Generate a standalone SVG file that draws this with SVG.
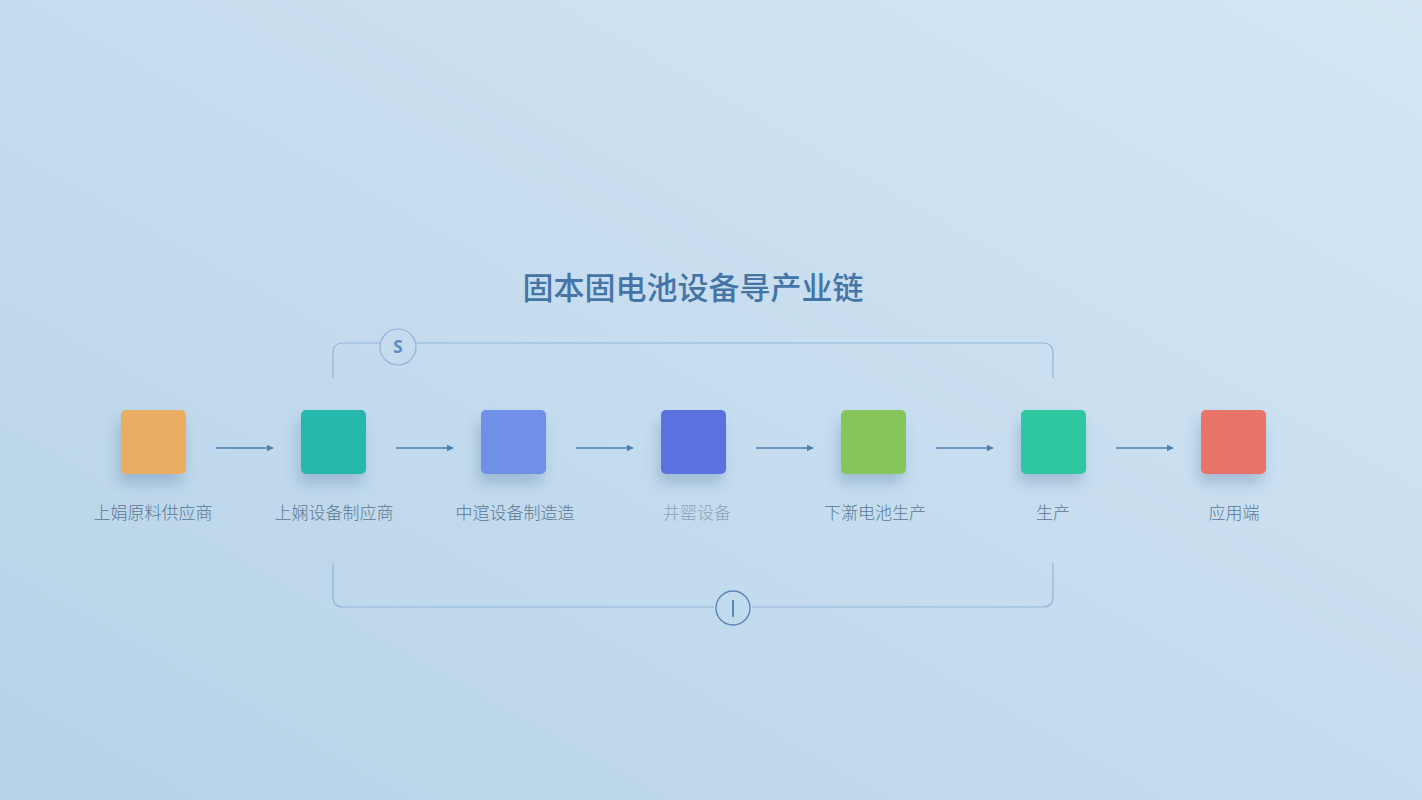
<svg xmlns="http://www.w3.org/2000/svg" width="1422" height="800" viewBox="0 0 1422 800">
<defs>
<linearGradient id="bg" x1="0" y1="1" x2="1" y2="0">
<stop offset="0" stop-color="#b6d2e7"/>
<stop offset="0.5" stop-color="#c6ddef"/>
<stop offset="1" stop-color="#d4e6f4"/>
</linearGradient>
<filter id="sh" x="-50%" y="-50%" width="200%" height="220%">
<feGaussianBlur in="SourceAlpha" stdDeviation="7"/>
<feOffset dx="-3" dy="10" result="b"/>
<feComponentTransfer in="b" result="c"><feFuncA type="linear" slope="0.28"/></feComponentTransfer>
<feFlood flood-color="#3c6690"/>
<feComposite in2="c" operator="in"/>
<feMerge><feMergeNode/><feMergeNode in="SourceGraphic"/></feMerge>
</filter>
<marker id="ah" viewBox="0 0 10 10" refX="9" refY="5" markerWidth="7" markerHeight="7" orient="auto" markerUnits="userSpaceOnUse">
<path d="M0,0 L10,5 L0,10 Z" fill="#4d7fb3"/>
</marker>
</defs>
<style>
.lbl{font-family:"Noto Sans CJK SC","Noto Sans",sans-serif;font-size:17px;font-weight:300;fill:#5b7893;text-anchor:middle}
.arr{stroke:#4d7fb3;stroke-width:1.6;fill:none;marker-end:url(#ah)}
.br{stroke:#92b5d8;stroke-width:1.2;fill:none}
</style>
<rect width="1422" height="800" fill="url(#bg)"/>
<text x="693" y="299" font-family="Noto Sans CJK SC,sans-serif" font-size="31" font-weight="500" fill="#4574a6" text-anchor="middle">固本固电池设备㝵产业链</text>
<g id="brackets">
<path class="br" d="M333,378 V353 Q333,343 343,343 H380 M416,343 H1043 Q1053,343 1053,353 V378"/>
<circle cx="398" cy="347" r="18" fill="none" stroke="#92b5d8" stroke-width="1.2"/>
<text x="398" y="353" font-family="Noto Sans,sans-serif" font-size="17" font-weight="bold" fill="#5b8cc4" text-anchor="middle">S</text>
<path class="br" d="M333,563 V597 Q333,607 343,607 H714 M752,607 H1043 Q1053,607 1053,597 V563"/>
<circle cx="733" cy="608" r="17" fill="none" stroke="#5d87b6" stroke-width="1.4"/>
<line x1="733" y1="600" x2="733" y2="617" stroke="#4d7fb3" stroke-width="1.8"/>
</g>
<g id="connectors">
<line class="arr" x1="216" y1="448" x2="273" y2="448"/>
<line class="arr" x1="396" y1="448" x2="453" y2="448"/>
<line class="arr" x1="576" y1="448" x2="633" y2="448"/>
<line class="arr" x1="756" y1="448" x2="813" y2="448"/>
<line class="arr" x1="936" y1="448" x2="993" y2="448"/>
<line class="arr" x1="1116" y1="448" x2="1173" y2="448"/>
</g>
<g id="n1"><rect x="121" y="410" width="65" height="64" rx="5" fill="#e9ad63" filter="url(#sh)"/><text class="lbl" x="153" y="519">上娟原料供应商</text></g>
<g id="n2"><rect x="301" y="410" width="65" height="64" rx="5" fill="#27b8ad" filter="url(#sh)"/><text class="lbl" x="334" y="519">上娴设备制应商</text></g>
<g id="n3"><rect x="481" y="410" width="65" height="64" rx="5" fill="#6f8fe6" filter="url(#sh)"/><text class="lbl" x="515" y="519">中逭设备制造造</text></g>
<g id="n4"><rect x="661" y="410" width="65" height="64" rx="5" fill="#5a72e0" filter="url(#sh)"/><text class="lbl" x="697" y="519" style="fill:#8aa3ba">井罂设备</text></g>
<g id="n5"><rect x="841" y="410" width="65" height="64" rx="5" fill="#86c45b" filter="url(#sh)"/><text class="lbl" x="875" y="519">下澵电池生产</text></g>
<g id="n6"><rect x="1021" y="410" width="65" height="64" rx="5" fill="#2ec7a0" filter="url(#sh)"/><text class="lbl" x="1053" y="519">生产</text></g>
<g id="n7"><rect x="1201" y="410" width="65" height="64" rx="5" fill="#e8736b" filter="url(#sh)"/><text class="lbl" x="1234" y="519">应用端</text></g>
</svg>
